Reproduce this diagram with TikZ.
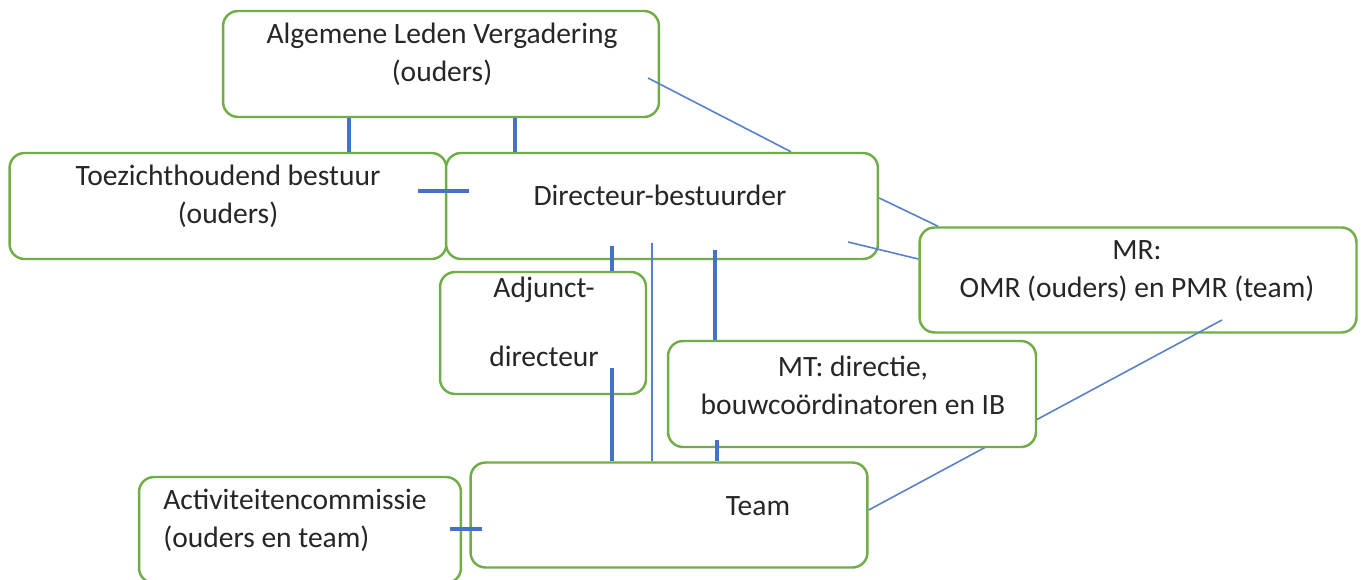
\documentclass[tikz,border=0pt]{standalone}
\usepackage{fontspec}
\setmainfont{Carlito}
\usetikzlibrary{positioning}
\definecolor{boxgreen}{HTML}{70AD47}
\definecolor{linkblue}{HTML}{4472C4}

\begin{document}
\begin{tikzpicture}[x=0.02cm,y=-0.02cm,
  orgbox/.style={draw=boxgreen,line width=1.4pt,rounded corners=0.3cm,fill=white,inner sep=0pt},
  boxtext/.style={font=\fontsize{16.8}{21.5}\selectfont,text=black!85,align=center,inner sep=0pt},
  thick link/.style={draw=linkblue,line width=2.3pt},
  thin link/.style={draw=linkblue!90,line width=0.9pt}]
\useasboundingbox (0,0) rectangle (1364,580);
\clip (0,0) rectangle (1364,580);

% boxes
\node[orgbox,minimum width=8.72cm,minimum height=2.12cm] (alv) at (441,64) {};
\node[orgbox,minimum width=8.74cm,minimum height=2.12cm] (tb) at (228,206) {};
\node[orgbox,minimum width=8.64cm,minimum height=2.12cm] (db) at (662,206) {};
\node[orgbox,minimum width=8.74cm,minimum height=2.10cm] (mr) at (1138,280) {};
\node[orgbox,minimum width=4.12cm,minimum height=2.44cm] (ad) at (543,333) {};
\node[orgbox,minimum width=7.94cm,minimum height=2.10cm] (team) at (669,515) {};
\node[orgbox,minimum width=6.44cm,minimum height=2.12cm] (act) at (300,530) {};

\node[boxtext] (alv-t) at (442,54) {Algemene Leden Vergadering\\(ouders)};
\node[boxtext] (tb-t) at (228,196) {Toezichthoudend bestuur\\(ouders)};
\node[boxtext] (db-t) at (660,195) {Directeur-bestuurder};
\node[boxtext] (mr-t) at (1137,271) {MR:\\OMR (ouders) en PMR (team)};
\node[boxtext] (ad-t) at (544,322) {Adjunct-\\[18pt]directeur};
\node[boxtext] (team-t) at (758,506) {Team};
\node[boxtext,align=left,anchor=west] (act-t) at (163,520) {Activiteitencommissie\\(ouders en team)};

% MR -- Team runs behind MT
\coordinate (mr-out) at (1222,320);
\draw[thin link] (mr-out) -- (team.east |- 0,510);

\node[orgbox,minimum width=7.36cm,minimum height=2.12cm] (mt) at (852,394) {};
\node[boxtext] (mt-t) at (853,385) {MT: directie,\\bouwcoördinatoren en IB};

% links
\coordinate (tbdb-w) at (418,191);
\coordinate (tbdb-e) at (469,191);
\coordinate (alv-out) at (648,78);
\coordinate (db-mr) at (848,242);
\coordinate (db-ad) at (612,246);
\coordinate (db-team) at (652,243);
\coordinate (db-mt) at (715,250);
\coordinate (ad-team) at (612,368);
\coordinate (mt-team) at (717,440);
\coordinate (act-w) at (450,529);
\coordinate (act-e) at (482,529);

\draw[thick link] (alv.south -| 349,0) -- (tb.north -| 349,0);
\draw[thick link] (alv.south -| 515,0) -- (db.north -| 515,0);
\draw[thick link] (tbdb-w) -- (tbdb-e);
\draw[thin link] (alv-out) -- (db.north -| 791,0);
\draw[thin link] (db.east |- 0,198) -- (mr.north -| 938,0);
\draw[thin link] (db-mr) -- (mr.west |- 0,259);
\draw[thick link] (db-ad) -- (ad.north -| 612,0);
\draw[thin link] (db-team) -- (team.north -| 652,0);
\draw[thick link] (db-mt) -- (mt.north -| 715,0);
\draw[thick link] (ad-team) -- (team.north -| 612,0);
\draw[thick link] (mt-team) -- (team.north -| 717,0);
\draw[thick link] (act-w) -- (act-e);

\end{tikzpicture}
\end{document}
